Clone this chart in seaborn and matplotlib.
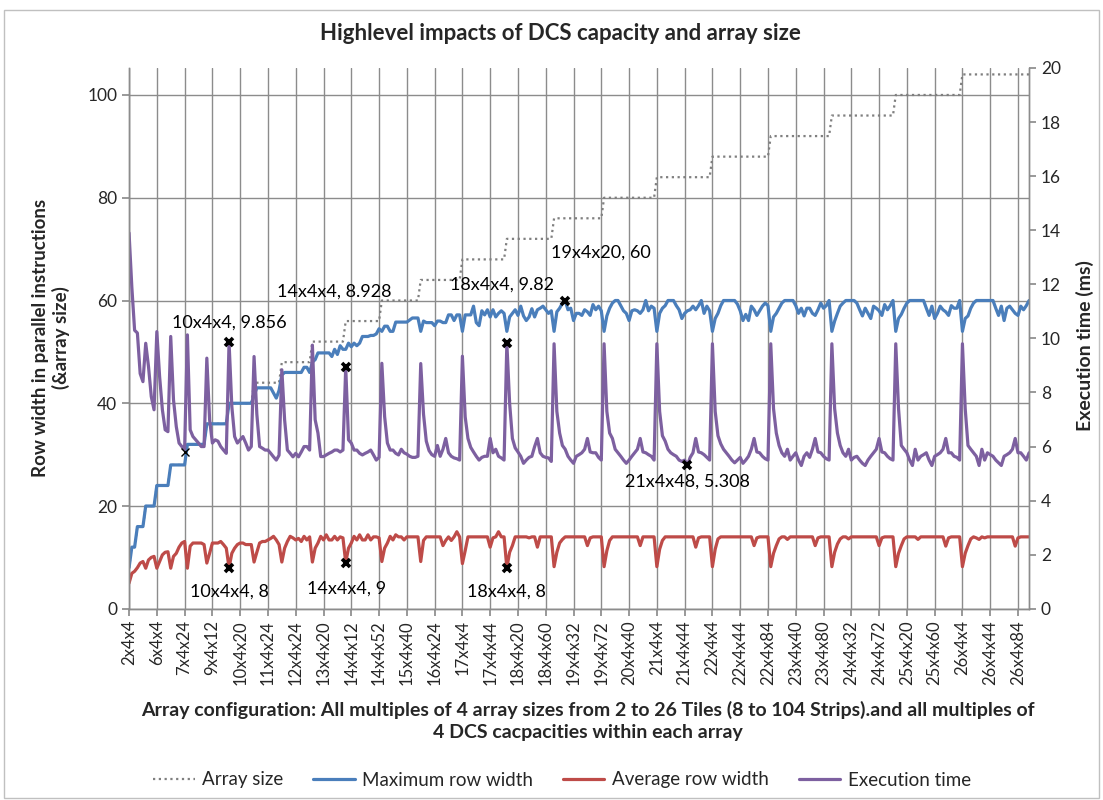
import numpy as np
import pandas as pd
import matplotlib
matplotlib.use("Agg")
import matplotlib.pyplot as plt
import seaborn as sns
from matplotlib.lines import Line2D
from matplotlib.patches import Rectangle

# tiles per array and the array size (strips) for each of them
tiles = [2, 3, 4, 5, 6, 7, 8, 9, 10, 11, 12, 13, 14, 15, 16, 17, 18, 19, 20, 21, 22, 23, 24, 25, 26]
array_sizes = [8, 12, 16, 20, 24, 28, 32, 36, 40, 44, 48, 52, 56, 60, 64, 68, 72, 76, 80, 84, 88, 92, 96, 100, 104]

# one row per array size, one value per DCS capacity (4, 8, ... up to array size - 4)
max_width = [
    [8],
    [12, 12],
    [16, 16, 16],
    [20, 20, 20, 20],
    [24, 24, 24, 24, 24],
    [28, 28, 28, 28, 28, 28],
    [32, 32, 32, 32, 32, 32, 32],
    [36, 36, 36, 36, 36, 36, 36, 36],
    [40, 40, 40, 40, 40, 40, 40, 40, 40],
    [41.5, 43, 43, 43, 43, 43, 43, 42, 41, 42.5],
    [45.5, 46, 46, 46, 46, 46, 46, 46, 47, 47, 46],
    [48, 48.5, 49.8, 49.8, 49.8, 49.8, 49.8, 49.1, 50.5, 49.5, 51.2, 50.5],
    [50.5, 51.7, 51, 51.7, 51.2, 51.7, 53, 53, 53, 53.2, 53.2, 53.5, 54.5],
    [54, 55, 55, 54, 54, 55.8, 55.8, 55.8, 55.8, 55.8, 56.2, 56.6, 56.6, 56.6],
    [54, 56, 55.7, 55.7, 55.7, 55.1, 56, 56, 55.7, 55.7, 57.2, 57.2, 56.1, 57.2, 57.2],
    [54, 57.2, 57.2, 57.2, 58.9, 55.7, 55.1, 58, 57.2, 58.2, 56.8, 58.2, 56.8, 57.5, 58, 57.5],
    [54, 56.8, 57.5, 58.2, 57.1, 58.9, 57, 56.1, 56.8, 58.4, 56.8, 58.2, 58.5, 58.9, 58.2, 57.5, 58],
    [54, 57.8, 58.5, 59.5, 60, 58.2, 58.5, 56.1, 57.5, 57.5, 57.1, 58.2, 57.8, 57.1, 59.2, 58.2, 58.9, 58],
    [54, 57, 58.5, 59.5, 60, 60, 59, 58, 57.5, 56.1, 58, 58.2, 58, 57.5, 58.2, 60, 58, 58.9, 58.5],
    [54, 57.5, 58.5, 59, 60, 60, 60, 59, 58.2, 56.5, 57.5, 58, 58.2, 58.9, 58.2, 59, 60, 57.5, 58.9, 58],
    [54, 56.5, 57.5, 59, 60, 60, 60, 60, 60, 59.3, 58, 56.1, 57.3, 56.1, 58.9, 58.2, 57.1, 58, 58.9, 59.5, 59],
    [54, 56.8, 57.5, 58.5, 59.5, 60, 60, 60, 60, 59, 57.5, 58.5, 57, 58.5, 58.5, 57.5, 57.1, 58.2, 59.5, 58.5, 59, 60],
    [54, 56, 57.5, 58.9, 59.5, 60, 60, 60, 60, 59.5, 58.2, 57, 58.5, 57.5, 56.5, 58.9, 58.5, 58, 57.1, 59.2, 58.2, 59, 60],
    [54, 56.5, 57.3, 58.5, 59.5, 60, 60, 60, 60, 60, 60, 58.5, 57.1, 58.9, 56.5, 57.5, 58.9, 58.2, 57.8, 57.1, 59, 58.5, 58.5, 60],
    [54, 56.5, 57, 58.5, 59.5, 60, 60, 60, 60, 60, 60, 60, 58.5, 57.1, 58.9, 56.1, 58.5, 58.9, 58.2, 57.5, 57.1, 58.9, 58.2, 59, 60],
]

avg_width = [
    [5.0],
    [6.9, 7.3],
    [8.0, 8.9, 9.2],
    [7.9, 9.5, 10.0, 10.2],
    [7.9, 9.2, 10.5, 11.0, 11.1],
    [7.9, 10.2, 10.8, 12.0, 12.8, 13.1],
    [7.9, 12.2, 12.8, 12.8, 12.8, 12.8, 12.5],
    [8.9, 10.8, 12.8, 12.8, 12.8, 13.1, 12.5, 11.8],
    [8.0, 10.8, 11.8, 12.5, 12.8, 12.8, 12.5, 12.5, 12.5],
    [9.1, 11.0, 12.8, 13.1, 13.1, 13.4, 13.7, 14.1, 13.4, 12.5],
    [9.1, 11.8, 13.1, 14.1, 13.8, 13.4, 13.7, 13.1, 14.1, 13.4, 14.0],
    [9.1, 11.8, 12.8, 14.1, 13.4, 14.4, 13.4, 13.4, 14.1, 13.4, 14.0, 13.8],
    [9.0, 11.8, 12.8, 14.1, 13.4, 14.4, 13.4, 13.4, 14.4, 13.4, 14.0, 14.0, 13.8],
    [9.2, 11.8, 12.8, 14.1, 13.4, 14.4, 14.0, 14.0, 13.4, 14.0, 14.0, 14.0, 14.0, 14.0],
    [9.2, 13.3, 14, 14, 14, 14, 14, 14, 12.3, 13.3, 14, 13.3, 14, 15, 14],
    [8.8, 11.3, 14, 14, 14, 14, 14, 14, 14, 14, 12.0, 13.8, 14, 15, 14, 14],
    [8.0, 11.0, 12.3, 14, 14, 14, 14, 14, 13.8, 14, 14, 12.0, 14, 14, 14, 14, 14],
    [8.2, 11.0, 12.8, 13.5, 14, 14, 14, 14, 14, 14, 14, 14, 12.3, 13.8, 14, 14, 14, 14],
    [8.2, 11.3, 13.3, 14, 14, 14, 14, 14, 14, 14, 14, 14, 14, 12.3, 14, 14, 14, 14, 14],
    [8.2, 11.6, 13.3, 14, 14, 14, 14, 14, 14, 14, 14, 14, 14, 14, 12.0, 13.8, 14, 14, 14, 14],
    [8.2, 11.6, 13.6, 14, 14, 14, 14, 14, 14, 14, 14, 14, 14, 14, 14, 12.3, 13.8, 14, 14, 14, 14],
    [8.2, 10.8, 12.3, 13.6, 14, 14, 13.5, 14, 14, 14, 14, 14, 14, 14, 14, 14, 12.3, 13.8, 14, 14, 14, 14],
    [8.2, 11.0, 12.6, 13.6, 14, 14, 13.6, 14, 14, 14, 14, 14, 14, 14, 14, 14, 14, 12.3, 13.8, 14, 14, 14, 14],
    [8.2, 10.8, 12.3, 13.6, 14, 14, 14, 14, 13.5, 14, 14, 14, 14, 14, 14, 14, 14, 14, 12.2, 13.8, 14, 14, 14, 14],
    [8.2, 10.8, 12.3, 13.6, 14, 13.8, 13.5, 14, 13.8, 14, 14, 14, 14, 14, 14, 14, 14, 14, 14, 12.2, 13.8, 14, 14, 14, 14],
]

exec_time = [
    [13.9],
    [11.9, 10.3],
    [10.2, 8.7, 8.4],
    [9.82, 8.96, 7.85, 7.36],
    [10.25, 8.59, 7.36, 6.62, 6.55],
    [10.07, 7.73, 6.74, 6.13, 6.0, 5.9],
    [10.13, 6.62, 6.37, 6.25, 6.13, 6.0, 6.0],
    [9.27, 6.99, 6.13, 6.25, 6.2, 6.0, 5.87, 5.75],
    [9.856, 7.48, 6.37, 6.13, 6.25, 6.37, 6.13, 5.87, 6.0],
    [9.33, 7.2, 6.0, 5.94, 5.87, 5.87, 5.75, 5.62, 5.5, 5.68],
    [8.84, 6.99, 5.87, 5.75, 5.62, 5.75, 5.62, 5.8, 6.0, 6.0, 5.87],
    [9.75, 6.99, 6.5, 5.63, 5.63, 5.69, 5.75, 5.8, 5.87, 5.87, 5.8, 5.87],
    [8.928, 6.25, 6.13, 5.87, 5.87, 5.75, 5.69, 5.75, 5.8, 5.87, 5.69, 5.5, 5.6],
    [9.08, 7.11, 6.13, 5.87, 5.87, 5.75, 5.69, 5.9, 5.77, 5.72, 5.64, 5.6, 5.6, 5.64],
    [9.07, 7.2, 6.2, 5.85, 5.7, 5.64, 6.04, 5.64, 5.9, 6.3, 5.77, 5.64, 5.58, 5.55, 5.5],
    [9.34, 7.1, 6.3, 5.97, 5.8, 5.64, 5.5, 5.6, 5.64, 5.64, 6.3, 5.77, 5.9, 5.64, 5.58, 5.5],
    [9.82, 7.6, 6.3, 5.95, 5.8, 5.64, 5.38, 5.5, 5.6, 5.64, 6.0, 6.3, 5.77, 5.64, 5.6, 5.58, 5.45],
    [9.8, 7.3, 6.5, 6.04, 5.9, 5.64, 5.5, 5.38, 5.64, 5.7, 5.77, 5.9, 6.3, 5.8, 5.77, 5.77, 5.6, 5.5],
    [9.8, 7.3, 6.5, 6.3, 5.9, 5.77, 5.64, 5.5, 5.38, 5.5, 5.64, 5.77, 5.9, 6.3, 5.8, 5.77, 5.7, 5.64, 5.5],
    [9.8, 7.3, 6.4, 6.2, 5.9, 5.77, 5.7, 5.64, 5.5, 5.45, 5.5, 5.308, 5.6, 5.77, 6.3, 5.8, 5.77, 5.7, 5.6, 5.5],
    [9.8, 7.3, 6.4, 6.1, 5.9, 5.77, 5.64, 5.5, 5.4, 5.5, 5.6, 5.38, 5.5, 5.64, 5.9, 6.3, 5.8, 5.77, 5.64, 5.55, 5.5],
    [9.8, 7.4, 6.5, 6.04, 5.77, 5.64, 5.9, 5.5, 5.64, 5.77, 5.5, 5.3, 5.64, 5.77, 5.6, 5.9, 6.3, 5.8, 5.77, 5.64, 5.55, 5.5],
    [9.8, 7.4, 6.5, 6.04, 5.77, 5.64, 5.9, 5.5, 5.6, 5.64, 5.5, 5.38, 5.3, 5.5, 5.64, 5.77, 5.9, 6.3, 5.8, 5.77, 5.64, 5.55, 5.5],
    [9.8, 7.4, 6.04, 5.9, 5.77, 5.5, 5.3, 5.9, 5.5, 5.64, 5.7, 5.77, 5.5, 5.3, 5.64, 5.7, 5.77, 5.9, 6.3, 5.77, 5.77, 5.64, 5.6, 5.5],
    [9.8, 7.4, 6.04, 5.9, 5.77, 5.64, 5.3, 5.9, 5.5, 5.77, 5.7, 5.64, 5.5, 5.4, 5.3, 5.64, 5.7, 5.77, 5.9, 6.3, 5.77, 5.77, 5.64, 5.5, 5.77],
]

# labelled points: (config, value, label text, label x-pos, label y, axis)
callouts = [
    ("10x4x4", 9.856, "10x4x4, 9.856", 36, 10.57, "right"),
    ("14x4x4", 8.928, "14x4x4, 8.928", 74, 11.74, "right"),
    ("18x4x4", 9.82, "18x4x4, 9.82", 134.3, 12.0, "right"),
    ("21x4x48", 5.308, "21x4x48, 5.308", 201, 4.72, "right"),
    ("19x4x20", 60, "19x4x20, 60", 170, 69.3, "left"),
    ("10x4x4", 8, "10x4x4, 8", 36, 3.4, "left"),
    ("14x4x4", 9, "14x4x4, 9", 78.3, 4.0, "left"),
    ("18x4x4", 8, "18x4x4, 8", 136, 3.3, "left"),
]

# build the category table
configs, sizes = [], []
for n, size in zip(tiles, array_sizes):
    for dcs in range(4, size, 4):
        configs.append(f"{n}x4x{dcs}")
        sizes.append(size)
for series in (max_width, avg_width, exec_time):
    for n, grp in zip(tiles, series):
        assert len(grp) == n - 1, (n, len(grp))

df = pd.DataFrame({
    "pos": np.arange(len(configs)),
    "config": configs,
    "array_size": sizes,
    "max_width": [v for g in max_width for v in g],
    "avg_width": [v for g in avg_width for v in g],
    "exec_time": [v for g in exec_time for v in g],
})

sns.set_theme(style="white")
plt.rcParams["font.family"] = ["Lato", "DejaVu Sans"]

c_size, c_max, c_avg, c_exec = "#7f7f7f", "#4a7ebb", "#be4b48", "#7d60a0"
grid_c = "#8c8c8c"

fig, ax = plt.subplots(figsize=(11.03, 8), dpi=100)
fig.subplots_adjust(left=0.117, right=0.933, top=0.915, bottom=0.239)
ax2 = ax.twinx()

sns.lineplot(data=df, x="pos", y="array_size", ax=ax, color=c_size, lw=1.6, linestyle=(0, (1, 1.6)))
sns.lineplot(data=df, x="pos", y="max_width", ax=ax, color=c_max, lw=2.3)
sns.lineplot(data=df, x="pos", y="avg_width", ax=ax, color=c_avg, lw=2.3)
sns.lineplot(data=df, x="pos", y="exec_time", ax=ax2, color=c_exec, lw=2.3)

ax.set_xlim(0, len(configs) - 1)
ax.set_ylim(0, 105.25)
ax2.set_ylim(0, 20)

xt = list(range(0, len(configs), 10))
ax.set_xticks(xt)
ax.set_xticklabels([configs[i] for i in xt], rotation=90, fontsize=12)
ax.set_yticks(range(0, 101, 20))
ax.tick_params(axis="y", labelsize=12.5, length=5, color=grid_c, direction="out", left=True)
ax.tick_params(axis="x", length=5, color=grid_c, direction="out", bottom=True, pad=3)
ax2.set_yticks(range(0, 21, 2))
ax2.tick_params(axis="y", labelsize=12.5, length=5, color=grid_c, direction="out", right=True)

ax.grid(True, color=grid_c, lw=1)
ax2.grid(False)
ax.set_axisbelow(True)
for a in (ax, ax2):
    a.spines["top"].set_visible(False)
    for s in ("left", "right", "bottom"):
        a.spines[s].set_color(grid_c)
        a.spines[s].set_linewidth(1)
ax.set_xlabel("")
ax.set_ylabel("")
ax2.set_ylabel("")

# data labels
for cfg, val, txt, tx, ty, side in callouts:
    a = ax2 if side == "right" else ax
    pos = configs.index(cfg)
    a.plot(pos, val, marker="x", color="black", ms=6, mew=2.6, zorder=6)
    a.text(tx, ty, txt, ha="center", va="center", fontsize=13, color="black", zorder=6)
ax2.plot(configs.index("7x4x24"), 5.8, marker="x", color="black", ms=6, mew=1.0, zorder=6)

fig.text(560 / 1103, 1 - 33 / 800, "Highlevel impacts of DCS capacity and array size",
         ha="center", va="center", fontsize=16, fontweight="bold")
fig.text(51 / 1103, 1 - 338 / 800, "Row width in parallel instructions\n(&array size)",
         ha="center", va="center", rotation=90, fontsize=13.5, fontweight="bold", linespacing=1.2)
fig.text(1085 / 1103, 1 - 346 / 800, "Execution time (ms)",
         ha="center", va="center", rotation=90, fontsize=14, fontweight="bold")
fig.text(588 / 1103, 1 - 721 / 800,
         "Array configuration: All multiples of 4 array sizes from 2 to 26 Tiles (8 to 104 Strips).and all multiples of\n"
         "4 DCS cacpacities within each array",
         ha="center", va="center", fontsize=14, fontweight="bold", linespacing=1.3)

handles = [
    Line2D([], [], color=c_size, lw=1.6, linestyle=(0, (1, 1.6))),
    Line2D([], [], color=c_max, lw=2.3),
    Line2D([], [], color=c_avg, lw=2.3),
    Line2D([], [], color=c_exec, lw=2.3),
]
fig.legend(handles, ["Array size", "Maximum row width", "Average row width", "Execution time"],
           loc="center", bbox_to_anchor=(562 / 1103, 1 - 780 / 800), ncol=4, frameon=False,
           fontsize=13.5, handlelength=2.2, columnspacing=1.6, handletextpad=0.4)

fig.add_artist(Rectangle((0.004, 0.003), 0.992, 0.985, transform=fig.transFigure,
                         fill=False, ec="#c0c0c0", lw=1))

fig.savefig("out.png", dpi=100)
